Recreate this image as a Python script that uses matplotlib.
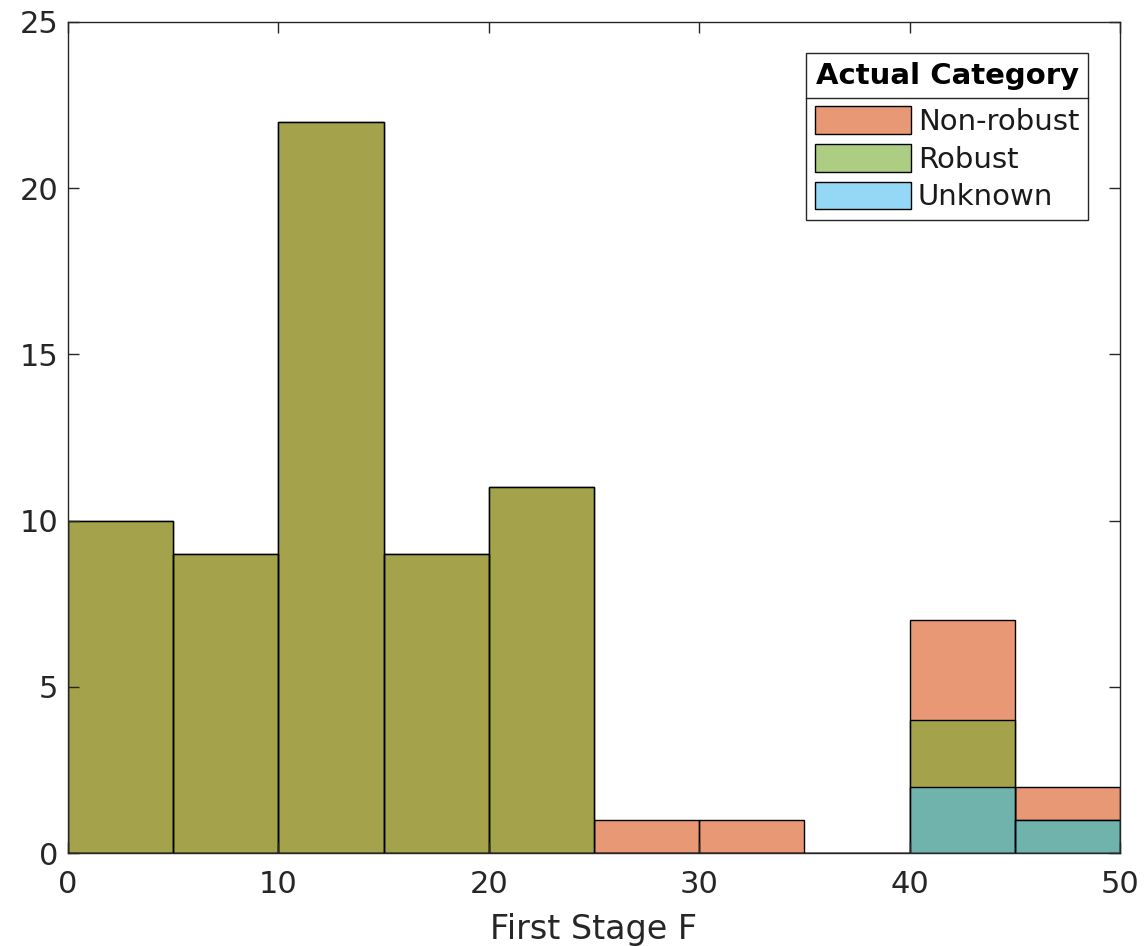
import numpy as np
import matplotlib
matplotlib.use("Agg")
import matplotlib.pyplot as plt
from matplotlib.lines import Line2D

# bin edges for "First Stage F" and counts per bin
bin_edges = [0, 5, 10, 15, 20, 25, 30, 35, 40, 45, 50]
non_robust = [10, 9, 22, 9, 11, 1, 1, 0, 7, 2]
robust = [10, 9, 22, 9, 11, 0, 0, 0, 4, 1]
unknown = [0, 0, 0, 0, 0, 0, 0, 0, 2, 1]

series_names = ["Non-robust", "Robust", "Unknown"]
series_colors = ["#D95319", "#77AC30", "#4DBEEE"]  # MATLAB default order colours

plt.rcParams['font.family'] = ['DejaVu Sans']

fig = plt.figure(figsize=(11.44, 9.46), dpi=100)
ax = fig.add_axes([0.0594, 0.0983, 0.9196, 0.8785])

centers = 0.5 * (np.array(bin_edges[:-1]) + np.array(bin_edges[1:]))
for name, counts, col in zip(series_names, [non_robust, robust, unknown], series_colors):
    ax.hist(centers, bins=bin_edges, weights=counts, color=col, alpha=0.6,
            edgecolor='none', label=name)
    # opaque black outlines, as in MATLAB's histogram
    ax.hist(centers, bins=bin_edges, weights=counts, histtype='bar',
            facecolor='none', edgecolor='black', linewidth=1.0)

ax.set_xlim(0, 50)
ax.set_ylim(0, 25)
ax.set_xticks([0, 10, 20, 30, 40, 50])
ax.set_yticks([0, 5, 10, 15, 20, 25])
ax.tick_params(direction='in', length=8, width=1, top=True, right=True,
               labelsize=22, colors='#262626')
ax.tick_params(axis='x', pad=12)
ax.tick_params(axis='y', pad=7)
for s in ax.spines.values():
    s.set_linewidth(1.0)
    s.set_color('#262626')
ax.set_xlabel("First Stage F", fontsize=24, color='#262626', labelpad=10)

leg = ax.legend(title="Actual Category", loc='upper right', fontsize=21,
                title_fontproperties={'weight': 'bold', 'size': 21},
                frameon=True, fancybox=False, edgecolor='#262626',
                framealpha=1, handlelength=3.3, handleheight=1.08,
                handletextpad=0.22, labelspacing=0.27, borderpad=0.3,
                bbox_to_anchor=(0.9696, 0.9627), borderaxespad=0)
leg._legend_box.sep = 12  # extra room between title and entries
leg.get_frame().set_linewidth(1.0)
for p, col in zip(leg.get_patches(), series_colors):
    rgb = np.array(matplotlib.colors.to_rgb(col))
    p.set_alpha(None)
    p.set_facecolor(0.6 * rgb + 0.4)
    p.set_edgecolor('black')
for t in leg.get_texts():
    t.set_color('#1a1a1a')

# separator line under the legend title
fig.canvas.draw()
r = fig.canvas.get_renderer()
fb = leg.get_frame().get_window_extent(r)
tb = leg.get_title().get_window_extent(r)
pb = leg.get_patches()[0].get_window_extent(r)
y_sep = 0.5 * (tb.y0 + pb.y1)
inv = fig.transFigure.inverted()
(x0, y0) = inv.transform((fb.x0, y_sep))
(x1, _) = inv.transform((fb.x1, y_sep))
fig.add_artist(Line2D([x0, x1], [y0, y0], color='#262626', linewidth=1.0))

fig.savefig("out.png", dpi=100)
